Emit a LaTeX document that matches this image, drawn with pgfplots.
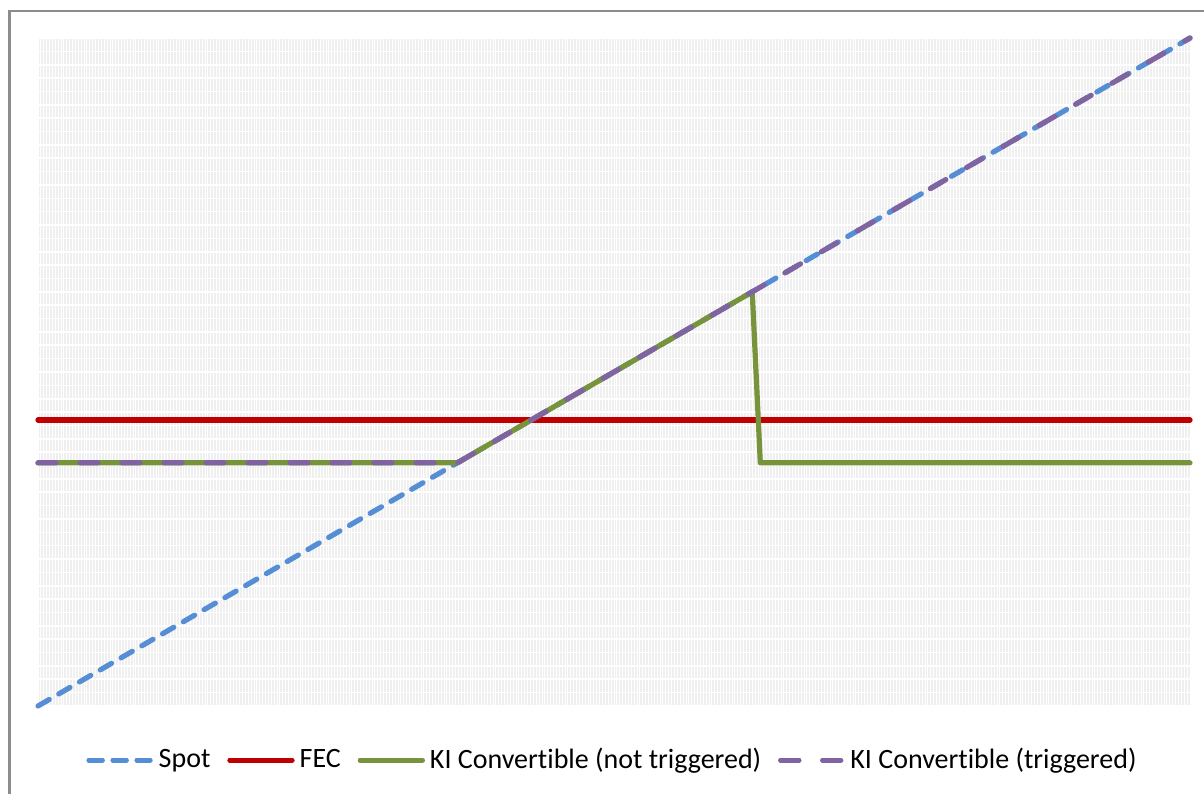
\documentclass[border=0pt]{standalone}
\usepackage{fontspec}
\setmainfont{Carlito}[Ligatures={NoCommon}]
\usepackage{pgfplots}
\pgfplotsset{compat=1.18}
\definecolor{spotc}{HTML}{558ED5}
\definecolor{fecc}{HTML}{C00000}
\definecolor{kigreen}{HTML}{77933C}
\definecolor{kipurple}{HTML}{8064A2}
\definecolor{bgc}{HTML}{EFEFEF}
\definecolor{framec}{HTML}{8C8C8C}
\begin{document}
\begin{tikzpicture}[x=1pt,y=1pt]
\useasboundingbox (0,0) rectangle (602,396.5);
\draw[line width=1.4pt, framec] (4.6,-20) |- (640,391);
\begin{axis}[
  at={(19pt,43.5pt)}, anchor=south west,
  scale only axis, width=576pt, height=334pt,
  xmin=0, xmax=100, ymin=0, ymax=100,
  axis line style={draw=none},
  major tick length=0pt, minor tick length=0pt,
  xticklabels={}, yticklabels={},
  xtick={0,5,...,100}, minor x tick num=19,
  ytick={0,2,...,100},
  grid=both,
  major grid style={white, line width=0.5pt},
  minor grid style={white, line width=0.5pt},
  y grid style={white, line width=0.8pt},
  axis background/.style={fill=bgc},
  clip=false,
  legend style={at={(0.5,-0.081)}, anchor=center, legend columns=4,
    draw=none, fill=none, font=\fontsize{14}{16}\selectfont,
    nodes={inner sep=2.5pt},
    /tikz/every even column/.append style={column sep=6pt}},
  legend image code/.code={\draw[#1] (0pt,0pt) -- (28.5pt,0pt); \path (0pt,0pt) -- (31pt,0pt);},
]
\addplot[spotc, line width=2.6pt, line cap=round, dash pattern=on 6.5pt off 5.5pt] coordinates {(0,0) (100,100)};
\addlegendentry{Spot}
\addplot[fecc, line width=2.6pt, line cap=round] coordinates {(0,42.8) (100,42.8)};
\addlegendentry{FEC}
\addplot[kigreen, line width=2.6pt, line cap=round, line join=round] coordinates {(0,36.4) (36.4,36.4) (62,62) (62.7,36.4) (100,36.4)};
\addlegendentry{KI Convertible (not triggered)}
\addplot[kipurple, line width=2.6pt, line cap=round, line join=round, dash pattern=on 9pt off 12pt] coordinates {(0,36.4) (36.4,36.4) (100,100)};
\addlegendentry{KI Convertible (triggered)}
\end{axis}
\end{tikzpicture}
\end{document}
